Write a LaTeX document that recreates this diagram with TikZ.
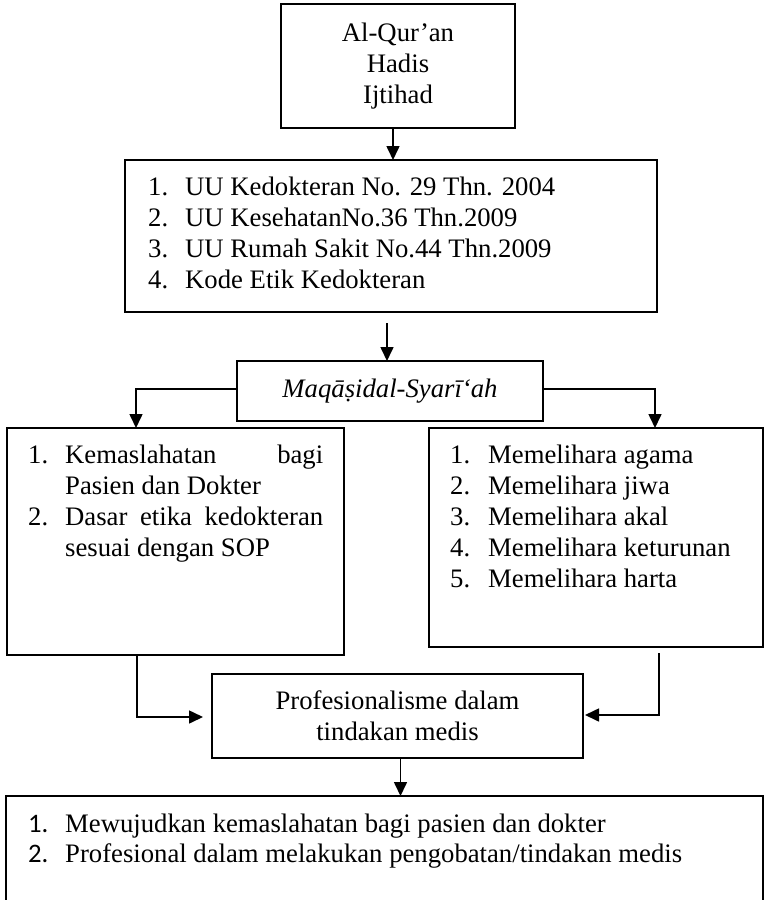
\documentclass[tikz,border=0pt]{standalone}
\usepackage{fontspec}
\setmainfont{Liberation Serif}
\newfontfamily\numfont{Carlito}
\usetikzlibrary{arrows.meta}
\begin{document}
\begin{tikzpicture}[x=1pt,y=-1pt,
  every node/.style={font=\fontsize{26.7}{30.7}\selectfont},
  box/.style={draw,line width=1.6pt,inner sep=0pt,outer sep=0pt},
  txt/.style={anchor=base west,inner sep=0pt},
  arr/.style={line width=1.6pt,-{Triangle[length=14pt,width=13pt]}},
  ln/.style={line width=1.6pt}]
\clip (0,0) rectangle (765,900);
\fill[white] (0,0) rectangle (765,900);
% boxes
\node[box,minimum width=234pt,minimum height=124pt,align=center] (b1) at (398,66) {Al-Qur’an\\Hadis\\Ijtihad};
\node[box,minimum width=532pt,minimum height=152pt] (b2) at (391,236) {};
\node[box,minimum width=306pt,minimum height=60pt] (b3) at (390,391) {\itshape Maqā\d{s}idal-Syarī‘ah};
\node[box,minimum width=337pt,minimum height=227pt] (b4) at (175.5,541.5) {};
\node[box,minimum width=334pt,minimum height=219pt] (b5) at (596,537.5) {};
\node[box,minimum width=371pt,minimum height=84pt,align=center] (pr) at (397.5,716) {Profesionalisme dalam\\tindakan medis};
\node[box,minimum width=757pt,minimum height=114pt] (b6) at (384.5,853) {};
% box 2 list
\node[txt] (b2a) at (148,195) {1.};
\node[txt] (b2at) at (185,195) {UU Kedokteran No. 29 Thn. 2004};
\node[txt] (b2b) at (148,226) {2.};
\node[txt] (b2bt) at (185,226) {UU KesehatanNo.36 Thn.2009};
\node[txt] (b2c) at (148,257) {3.};
\node[txt] (b2ct) at (185,257) {UU Rumah Sakit No.44 Thn.2009};
\node[txt] (b2d) at (148,288) {4.};
\node[txt] (b2dt) at (185,288) {Kode Etik Kedokteran};
% box 4 list
\node[txt] (b4a) at (28,463) {1.};
\node[txt] (b4at) at (65,463) {\makebox[258pt][s]{Kemaslahatan bagi}};
\node[txt] (b4as) at (65,494) {Pasien dan Dokter};
\node[txt] (b4b) at (28,525) {2.};
\node[txt] (b4bt) at (65,525) {\makebox[258pt][s]{Dasar etika kedokteran}};
\node[txt] (b4bs) at (65,556) {sesuai dengan SOP};
% box 5 list
\node[txt] (b5a) at (450,463) {1.};
\node[txt] (b5at) at (488,463) {Memelihara agama};
\node[txt] (b5b) at (450,494) {2.};
\node[txt] (b5bt) at (488,494) {Memelihara jiwa};
\node[txt] (b5c) at (450,525) {3.};
\node[txt] (b5ct) at (488,525) {Memelihara akal};
\node[txt] (b5d) at (450,556) {4.};
\node[txt] (b5dt) at (488,556) {Memelihara keturunan};
\node[txt] (b5e) at (450,587) {5.};
\node[txt] (b5et) at (488,587) {Memelihara harta};
% bottom list
\node[txt] (b6a) at (28,832) {\numfont 1.};
\node[txt] (b6at) at (65,832) {Mewujudkan kemaslahatan bagi pasien dan dokter};
\node[txt] (b6b) at (28,862) {\numfont 2.};
\node[txt] (b6bt) at (65,862) {Profesional dalam melakukan pengobatan/tindakan medis};
% connectors
\draw[arr] ([xshift=-5pt]b1.south) -- ([xshift=-5pt]b1.south |- b2.north);
\draw[arr] ([xshift=-4pt,yshift=-11pt]b2.south) -- ([xshift=-4pt]b2.south |- b3.north);
\coordinate (l4) at ([xshift=-39.5pt]b4.north);
\coordinate (l5) at ([xshift=59pt]b5.north);
\draw[arr] ([yshift=2pt]b3.west) -| (l4);
\draw[arr] ([yshift=2pt]b3.east) -| (l5);
\coordinate (s4) at ([xshift=-38.5pt]b4.south);
\coordinate (s5) at ([xshift=63pt,yshift=-6pt]b5.south);
\draw[arr] (s4) |- ([xshift=-9pt,yshift=-1pt]pr.west);
\draw[arr] (s5) |- ([xshift=2pt,yshift=1pt]pr.east);
\draw[arr] ([xshift=3pt]pr.south) -- ([xshift=3pt]pr.south |- b6.north);
\end{tikzpicture}
\end{document}
